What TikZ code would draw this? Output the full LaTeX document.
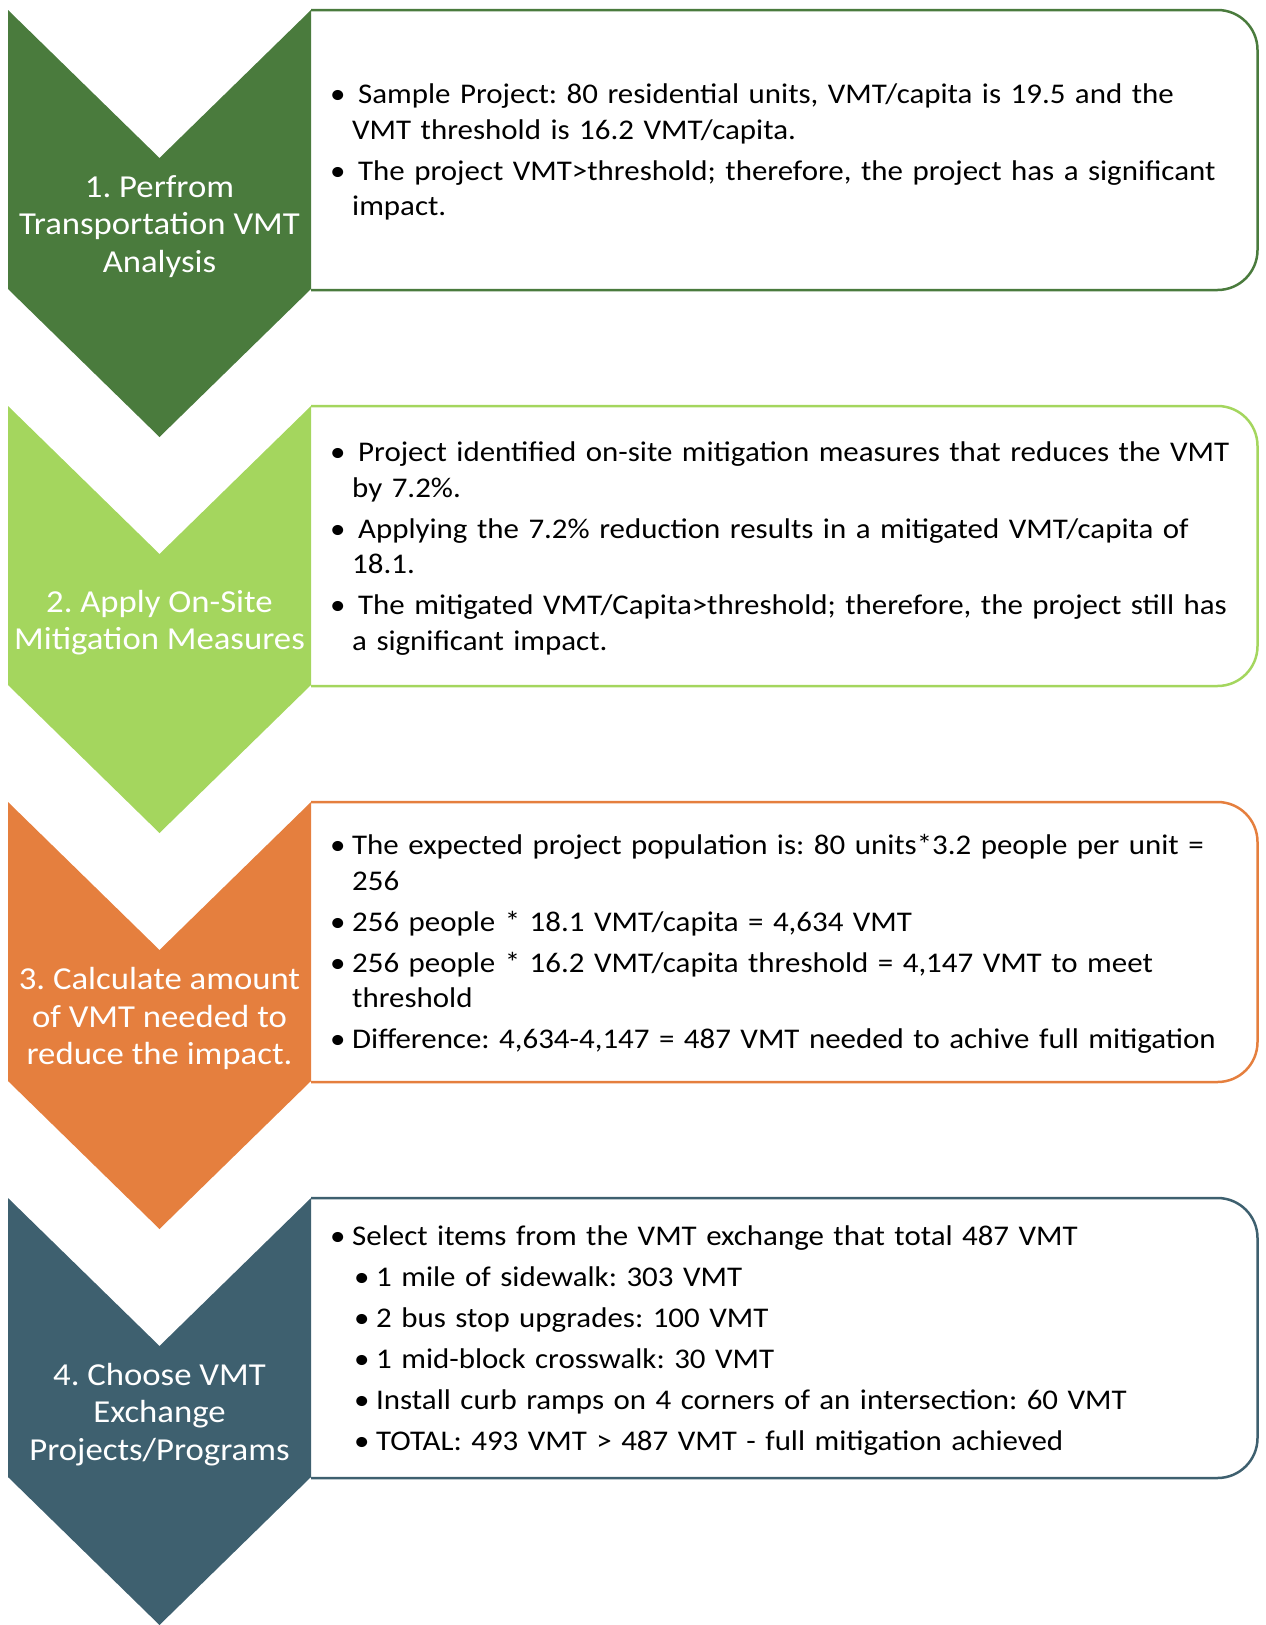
\documentclass[tikz,border=0pt]{standalone}
\usepackage{fontspec}
\setmainfont{Carlito}[FakeStretch=1.085]
\usepackage{tikz}
\definecolor{paso1}{HTML}{4A7B3D}
\definecolor{paso2}{HTML}{A4D65E}
\definecolor{paso3}{HTML}{E57F3E}
\definecolor{paso4}{HTML}{3E606F}
\frenchspacing
\newcommand{\pto}[1]{\par\hangindent=22pt\hangafter=1\noindent\hbox to 22pt{\textbullet\hss}#1\par}
\newcommand{\subpto}[1]{\par\hangindent=46pt\hangafter=1\noindent\hskip24pt\hbox to 22pt{\textbullet\hss}#1\par}
\tikzset{
  flecha/.style={fill=#1,draw=none},
  caja/.style={draw=#1,line width=2.5pt,rounded corners=40pt},
  etiqueta/.style={text=white,align=center,inner sep=0pt,font=\fontsize{32}{37.5}\selectfont},
  lista/.style={anchor=west,text width=925pt,align=left,inner sep=0pt,font=\fontsize{28.5}{35.5}\selectfont\setlength{\parskip}{5.5pt}},
}
\begin{document}
\begin{tikzpicture}[x=1pt,y=-1pt]
\useasboundingbox (0,0) rectangle (1266,1625);
\draw[caja=paso1] (311,10) -| (1257.5,290) -- (311,290);
\draw[caja=paso2] (311,406) -| (1257.5,686) -- (311,686);
\draw[caja=paso3] (311,802) -| (1257.5,1082) -- (311,1082);
\draw[caja=paso4] (311,1198) -| (1257.5,1478) -- (311,1478);
\fill[flecha=paso1] (8,10) -- (159.5,158) -- (311,10) -- (311,289) -- (159.5,437) -- (8,289) -- cycle;
\fill[flecha=paso2] (8,406) -- (159.5,554) -- (311,406) -- (311,685) -- (159.5,833) -- (8,685) -- cycle;
\fill[flecha=paso3] (8,802) -- (159.5,950) -- (311,802) -- (311,1081) -- (159.5,1229) -- (8,1081) -- cycle;
\fill[flecha=paso4] (8,1198) -- (159.5,1346) -- (311,1198) -- (311,1477) -- (159.5,1625) -- (8,1477) -- cycle;
\node[etiqueta] (s1) at (159.5,226.5) {1. Perfrom\\Transportation VMT\\Analysis};
\node[etiqueta] (s2) at (159.5,622.5) {2. Apply On-Site\\Mitigation Measures};
\node[etiqueta] (s3) at (159.5,1018.5) {3. Calculate amount\\of VMT needed to\\reduce the impact.};
\node[etiqueta] (s4) at (159.5,1414.5) {4. Choose VMT\\Exchange\\Projects/Programs};
\node[lista] (t1) at (330,141.7) {%
\pto{\hspace{6pt}Sample Project: 80 residential units, VMT/capita is 19.5 and the\newline VMT threshold is 16.2 VMT/capita.}
\pto{\hspace{6pt}The project VMT>threshold; therefore, the project has a significant\newline impact.}};
\node[lista] (t2) at (330,537.7) {%
\pto{\hspace{6pt}Project identified on-site mitigation measures that reduces the VMT\newline by 7.2\%.}
\pto{\hspace{6pt}Applying the 7.2\% reduction results in a mitigated VMT/capita of\newline 18.1.}
\pto{\hspace{6pt}The mitigated VMT/Capita>threshold; therefore, the project still has\newline a significant impact.}};
\node[lista] (t3) at (330,933.7) {%
\pto{The expected project population is: 80 units*3.2 people per unit =\newline 256}
\pto{256 people * 18.1 VMT/capita = 4,634 VMT}
\pto{256 people * 16.2 VMT/capita threshold = 4,147 VMT to meet\newline threshold}
\pto{Difference: 4,634-4,147 = 487 VMT needed to achive full mitigation}};
\node[lista] (t4) at (330,1329.7) {%
\pto{Select items from the VMT exchange that total 487 VMT}
\subpto{1 mile of sidewalk: 303 VMT}
\subpto{2 bus stop upgrades: 100 VMT}
\subpto{1 mid-block crosswalk: 30 VMT}
\subpto{Install curb ramps on 4 corners of an intersection: 60 VMT}
\subpto{TOTAL: 493 VMT > 487 VMT - full mitigation achieved}};
\end{tikzpicture}
\end{document}
